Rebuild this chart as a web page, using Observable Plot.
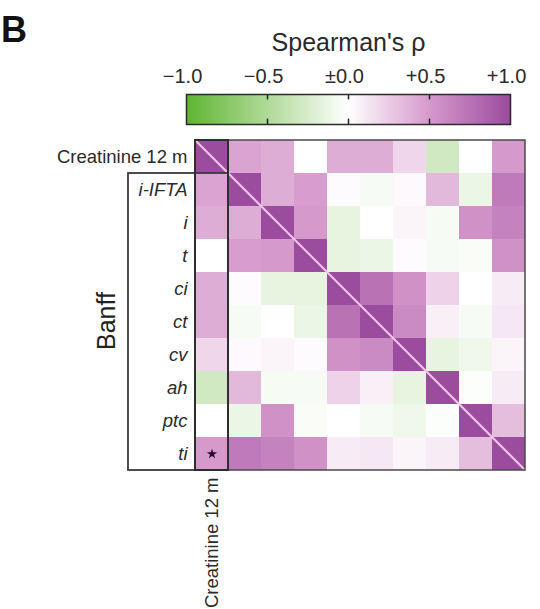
<!DOCTYPE html>
<html>
<head>
<meta charset="utf-8">
<script src="https://cdn.jsdelivr.net/npm/d3@7"></script>
<script src="https://cdn.jsdelivr.net/npm/@observablehq/plot@0.6"></script>
<style>
html, body { margin: 0; padding: 0; background: #fff; }
#wrap { position: relative; width: 540px; height: 609px; overflow: hidden; }
#wrap svg { position: absolute; left: 0; top: 0; }
</style>
</head>
<body>
<div id="wrap"></div>
<script>
// ---- data ----
const variables = ["Creatinine 12 m", "i-IFTA", "i", "t", "ci", "ct", "cv", "ah", "ptc", "ti"];
const banffVars = ["i-IFTA", "i", "t", "ci", "ct", "cv", "ah", "ptc", "ti"];
// Spearman's rho matrix (rows / columns in the order of `variables`)
const rhoCreatinine = [1.00, 0.45, 0.40, 0.00, 0.40, 0.40, 0.20, -0.30, 0.00, 0.50];
const rhoIIFTA      = [0.45, 1.00, 0.40, 0.48, 0.02, -0.05, 0.03, 0.35, -0.12, 0.70];
const rhoI          = [0.40, 0.40, 1.00, 0.50, -0.15, 0.00, 0.05, -0.06, 0.55, 0.65];
const rhoT          = [0.00, 0.48, 0.50, 1.00, -0.15, -0.12, 0.02, -0.05, -0.04, 0.55];
const rhoCi         = [0.40, 0.02, -0.15, -0.15, 1.00, 0.75, 0.55, 0.22, 0.00, 0.10];
const rhoCt         = [0.40, -0.05, 0.00, -0.12, 0.75, 1.00, 0.60, 0.08, -0.05, 0.12];
const rhoCv         = [0.20, 0.03, 0.05, 0.02, 0.55, 0.60, 1.00, -0.15, -0.10, 0.05];
const rhoAh         = [-0.30, 0.35, -0.06, -0.05, 0.22, 0.08, -0.15, 1.00, -0.02, 0.10];
const rhoPtc        = [0.00, -0.12, 0.55, -0.04, 0.00, -0.05, -0.10, -0.02, 1.00, 0.32];
const rhoTi         = [0.50, 0.70, 0.65, 0.55, 0.10, 0.12, 0.05, 0.10, 0.32, 1.00];
const rhoRows = [rhoCreatinine, rhoIIFTA, rhoI, rhoT, rhoCi, rhoCt, rhoCv, rhoAh, rhoPtc, rhoTi];
// significant correlations (star)
const significant = [{row: "ti", col: "Creatinine 12 m"}];
// colour legend
const legendTicks = [-1, -0.5, 0, 0.5, 1];
const legendTickLabels = ["\u22121.0", "\u22120.5", "\u00b10.0", "+0.5", "+1.0"];
const legendInnerTicks = [-0.5, 0, 0.5];

// ---- shared styles ----
const font = "'Liberation Sans', Arial, Helvetica, sans-serif";
const colorScale = {
  type: "linear",
  domain: [-1, -0.5, 0, 0.5, 1],
  range: ["#5fb532", "#b0da99", "#ffffff", "#d699cc", "#9b4c9e"],
  clamp: true
};

const cells = variables.flatMap((r, i) => variables.map((c, j) => ({row: r, col: c, value: rhoRows[i][j]})));

const wrap = document.getElementById("wrap");

// ---- heatmap ----
const heat = Plot.plot({
  width: 540,
  height: 609,
  marginLeft: 194,
  marginRight: 14,
  marginTop: 138,
  marginBottom: 138,
  style: {fontFamily: font, background: "transparent", color: "#2a2a2a", overflow: "visible"},
  x: {domain: variables, padding: 0, axis: null},
  y: {domain: variables, padding: 0, axis: null},
  color: colorScale,
  marks: [
    Plot.cell(cells, {x: "col", y: "row", fill: "value"}),
    // diagonal + boxes derived from scales
    (index, scales, values, dimensions) => {
      const x = scales.x, y = scales.y;
      const bw = x(variables[1]) - x(variables[0]);
      const bh = y(variables[1]) - y(variables[0]);
      const x0 = x(variables[0]), x1 = x(variables[variables.length - 1]) + bw;
      const y0 = y(variables[0]), y1 = y(variables[variables.length - 1]) + bh;
      const g = d3.create("svg:g");
      g.append("line").attr("x1", x0).attr("y1", y0).attr("x2", x1).attr("y2", y1)
        .attr("stroke", "#f3c7e8").attr("stroke-width", 2);
      g.append("rect").attr("x", x0).attr("y", y0).attr("width", x1 - x0).attr("height", y1 - y0)
        .attr("fill", "none").attr("stroke", "#4a4a4a").attr("stroke-width", 1.5);
      // Banff bracket box
      const yb = y(banffVars[0]);
      g.append("rect").attr("x", 128).attr("y", yb).attr("width", x0 + bw - 128).attr("height", y1 - yb)
        .attr("fill", "none").attr("stroke", "#3a3a3a").attr("stroke-width", 1.8);
      // creatinine column box
      g.append("rect").attr("x", x0).attr("y", y0).attr("width", bw).attr("height", y1 - y0)
        .attr("fill", "none").attr("stroke", "#2e2e2e").attr("stroke-width", 2);
      return g.node();
    },
    Plot.dot(significant, {x: "col", y: "row", symbol: "star", r: 3.2, fill: "#2a0a2a", stroke: "none"}),
    Plot.axisX({ticks: [variables[0]], tickRotate: -90, tickSize: 0, tickPadding: 6, fontSize: 18.5, label: null}),
    Plot.axisY({ticks: [variables[0]], tickSize: 0, tickPadding: 7, fontSize: 18.5, label: null}),
    Plot.axisY({ticks: banffVars, tickSize: 0, tickPadding: 7, fontSize: 18.5, fontStyle: "italic", label: null})
  ]
});
d3.select(heat).append("text")
  .attr("transform", "translate(115,321) rotate(-90)")
  .attr("text-anchor", "middle")
  .attr("font-size", 25)
  .attr("fill", "#222")
  .text("Banff");
wrap.appendChild(heat);

// ---- colour bar ----
const bar = Plot.plot({
  width: 540,
  height: 132,
  marginLeft: 186,
  marginRight: 30,
  marginTop: 94,
  marginBottom: 8,
  style: {fontFamily: font, background: "transparent", color: "#2a2a2a", overflow: "visible"},
  x: {domain: [-1, 1], axis: null},
  y: {domain: [0, 1], axis: null},
  color: colorScale,
  marks: [
    Plot.raster({x1: -1, x2: 1, y1: 0, y2: 1, width: 324, height: 2, fill: (x, y) => x, imageRendering: "auto"}),
    Plot.ruleX(legendInnerTicks, {y1: 1, y2: 0.82, stroke: "#222", strokeWidth: 1.5}),
    Plot.ruleX(legendInnerTicks, {y1: 0, y2: 0.18, stroke: "#222", strokeWidth: 1.5}),
    Plot.frame({stroke: "#2a2a2a", strokeWidth: 1.5}),
    Plot.text(legendTicks, {x: d => d, text: (d, i) => legendTickLabels[i], frameAnchor: "top", lineAnchor: "bottom", dy: -12, dx: -4, fontSize: 20}),
    Plot.text(["Spearman's \u03c1"], {x: [0], frameAnchor: "top", lineAnchor: "bottom", dy: -44, fontSize: 25})
  ]
});
d3.select(bar).append("text")
  .attr("x", 14).attr("y", 42)
  .attr("font-size", 36).attr("font-weight", "bold").attr("fill", "#111")
  .text("B");
wrap.appendChild(bar);
</script>
</body>
</html>
